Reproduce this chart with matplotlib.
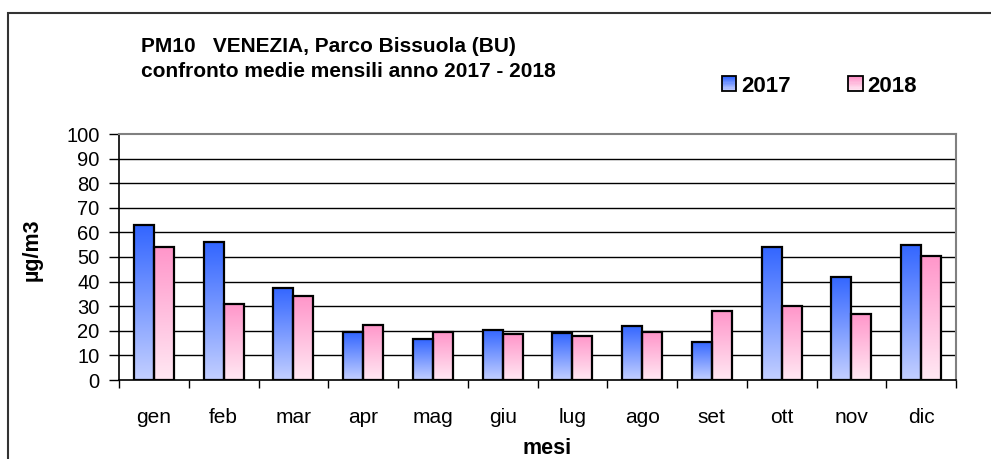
import numpy as np
import matplotlib.pyplot as plt
from matplotlib.patches import Rectangle
from matplotlib.legend_handler import HandlerBase

plt.rcParams['font.family'] = ['Liberation Sans', 'DejaVu Sans']

months = ['gen', 'feb', 'mar', 'apr', 'mag', 'giu', 'lug', 'ago', 'set', 'ott', 'nov', 'dic']
pm10_2017 = [63, 56, 37.5, 19.5, 16.5, 20.5, 19, 22, 15.5, 54, 42, 55]
pm10_2018 = [54, 31, 34, 22.5, 19.5, 18.5, 18, 19.5, 28, 30, 27, 50.5]
years = ['2017', '2018']

blue_top, blue_bot = np.array([51, 102, 255]) / 255, np.array([195, 207, 255]) / 255
pink_top, pink_bot = np.array([255, 150, 202]) / 255, np.array([255, 232, 243]) / 255


def gradient(top, bot, n=100):
    t = np.linspace(0, 1, n)[:, None]
    return (top[None, :] * (1 - t) + bot[None, :] * t)[:, None, :]


class GradHandler(HandlerBase):
    # legend square filled with the same vertical gradient as the bars
    def __init__(self, top, bot):
        super().__init__()
        self.top, self.bot = top, bot

    def create_artists(self, legend, orig_handle, xdescent, ydescent, width, height, fontsize, trans):
        arts = []
        n = 12
        for i in range(n):
            t = i / (n - 1)
            c = self.top * (1 - t) + self.bot * t
            y0 = -ydescent + height * (1 - (i + 1) / n)
            arts.append(Rectangle((-xdescent, y0), width, height / n, facecolor=c,
                                  edgecolor='none', transform=trans))
        arts.append(Rectangle((-xdescent, -ydescent), width, height, fill=False,
                              edgecolor='black', lw=1.3, transform=trans))
        return arts


fig = plt.figure(figsize=(9.91, 4.59), dpi=100)
ax = fig.add_axes([119 / 991, 1 - 380 / 459, 837 / 991, 246 / 459])

x = np.arange(len(months))
w = 0.287
grad_b = gradient(blue_top, blue_bot)
grad_p = gradient(pink_top, pink_bot)

handles = []
for vals, off, grad in [(pm10_2017, -w / 2, grad_b), (pm10_2018, w / 2, grad_p)]:
    bars = ax.bar(x + off, vals, w, facecolor='none', edgecolor='black', linewidth=1.6, zorder=4)
    handles.append(bars)
    for b in bars:
        x0, y0 = b.get_x(), b.get_y()
        ax.imshow(grad, extent=[x0, x0 + b.get_width(), y0, y0 + b.get_height()],
                  aspect='auto', zorder=3, interpolation='bilinear')

ax.set_xlim(-0.5, len(months) - 0.5)
ax.set_ylim(0, 100)
ax.set_yticks(range(0, 101, 10))
ax.set_xticks(x)
ax.set_xticklabels(months, fontsize=15)
ax.set_xticks(np.arange(-0.5, len(months), 1), minor=True)
ax.tick_params(axis='x', which='major', length=0, pad=20)
ax.tick_params(axis='x', which='minor', length=6, width=1, color='black')
ax.tick_params(axis='y', length=7, width=1, labelsize=14.5, pad=7)
for v in range(10, 100, 10):
    ax.axhline(v, color='black', lw=1, zorder=1)
for s in ['top', 'right']:
    ax.spines[s].set_color('#808080')
    ax.spines[s].set_linewidth(1.5)
for s in ['left', 'bottom']:
    ax.spines[s].set_color('black')
    ax.spines[s].set_linewidth(1.2)

ax.set_xlabel('mesi', fontsize=15.5, fontweight='bold', va='baseline')
ax.xaxis.set_label_coords(0.511, (380 - 454) / 246)
ax.set_ylabel('µg/m3', fontsize=15.5, fontweight='bold', va='center')
ax.yaxis.set_label_coords((32 - 119) / 837, (380 - 250) / 246)

fig.text(141 / 991, 1 - 52 / 459, 'PM10   VENEZIA, Parco Bissuola (BU)', fontsize=15,
         fontweight='bold', va='baseline')
fig.text(141 / 991, 1 - 77 / 459, 'confronto medie mensili anno 2017 - 2018', fontsize=15,
         fontweight='bold', va='baseline')

fig.legend(handles, years, loc='center left', bbox_to_anchor=(722 / 991, 1 - 86 / 459),
           ncol=2, frameon=False, prop={'weight': 'bold', 'size': 16},
           handler_map={handles[0]: GradHandler(blue_top, blue_bot),
                        handles[1]: GradHandler(pink_top, pink_bot)},
           handlelength=0.65, handleheight=0.65, handletextpad=0.2, columnspacing=2.6,
           borderpad=0, borderaxespad=0)

fig.patches.append(Rectangle((8 / 991, -0.1), 1.2, 1.1 - 13 / 459, transform=fig.transFigure,
                             fill=False, edgecolor='#333333', lw=1.5))

fig.savefig('out.png', dpi=100)
